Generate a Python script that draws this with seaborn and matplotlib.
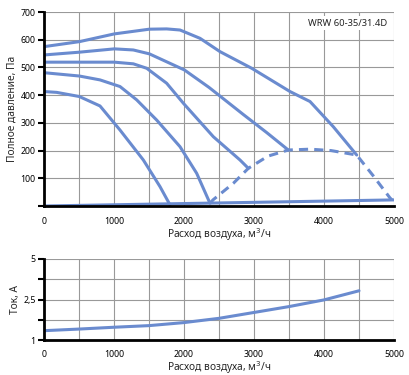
import matplotlib
matplotlib.use("Agg")
import matplotlib.pyplot as plt
import seaborn as sns
import pandas as pd

# ---- data ----
c1_x = [0, 505, 1005, 1505, 1752, 1943, 2229, 2514, 2967, 3514, 3800, 4133, 4467]
c1_y = [575, 593, 621, 638, 639, 635, 605, 557, 497, 413, 377, 286, 184]
c2_x = [0, 505, 1005, 1276, 1505, 2005, 2357, 2848, 3181, 3490]
c2_y = [545, 555, 567, 563, 549, 491, 428, 330, 265, 202]
c3_x = [0, 1005, 1276, 1467, 1752, 1990, 2419, 2800, 2919]
c3_y = [519, 519, 513, 497, 443, 371, 250, 166, 136]
c4_x = [0, 505, 800, 1086, 1324, 1610, 1943, 2181, 2371]
c4_y = [481, 469, 455, 431, 383, 310, 214, 118, 10]
c5_x = [0, 181, 505, 800, 1086, 1419, 1657, 1800]
c5_y = [413, 410, 395, 361, 274, 166, 70, 4]
base_x = [0, 5000]
base_y = [0, 22]
dash_x = [2371, 2414, 2705, 2919, 3200, 3490, 3800, 4100, 4467, 4700, 4943, 4971]
dash_y = [10, 22, 82, 136, 180, 202, 205, 200, 184, 110, 29, 22]

cur_x = [0, 500, 1000, 1500, 2000, 2500, 3000, 3500, 4000, 4500]
cur_y = [1.46, 1.54, 1.63, 1.71, 1.86, 2.07, 2.36, 2.65, 2.98, 3.43]

x_ticks = [0, 1000, 2000, 3000, 4000, 5000]
p_ticks = [100, 200, 300, 400, 500, 600, 700]
i_labels = ["1", "", "2,5", "", "5"]
label_model = "WRW 60-35/31.4D"

sns.set_theme(style="white")
plt.rcParams['font.family'] = ['Noto Sans', 'DejaVu Sans']

col = "#6a8bcf"
lw = 2.2

fig = plt.figure(figsize=(4.1, 3.75), dpi=100)
ax1 = fig.add_axes([44/410, 1-206/375, 350/410, 194/375])
ax2 = fig.add_axes([44/410, 1-340/375, 350/410, 81/375])

kw = dict(color=col, lw=lw, sort=False, estimator=None,
          solid_joinstyle="round", solid_capstyle="round")
for xs, ys in [(c1_x, c1_y), (c2_x, c2_y), (c3_x, c3_y), (c4_x, c4_y), (c5_x, c5_y), (base_x, base_y)]:
    df = pd.DataFrame({"x": xs, "y": ys})
    sns.lineplot(data=df, x="x", y="y", ax=ax1, **kw)
dfd = pd.DataFrame({"x": dash_x, "y": dash_y})
sns.lineplot(data=dfd, x="x", y="y", ax=ax1, color=col, lw=lw, sort=False,
             estimator=None, linestyle=(0, (3, 2)))

dfc = pd.DataFrame({"x": cur_x, "y": cur_y})
sns.lineplot(data=dfc, x="x", y="y", ax=ax2, **kw)

grid_col = "#999999"
for ax in (ax1, ax2):
    ax.set_xlim(0, 5000)
    ax.set_xticks(x_ticks)
    ax.set_xticks(range(0, 5001, 500), minor=True)
    ax.grid(True, which="both", axis="x", color=grid_col, lw=0.8)
    ax.grid(True, which="major", axis="y", color=grid_col, lw=0.8)
    for s in ["top", "right"]:
        ax.spines[s].set_visible(False)
    ax.spines["left"].set_color("black")
    ax.spines["left"].set_linewidth(2)
    ax.spines["bottom"].set_color("black")
    ax.spines["bottom"].set_linewidth(2)
    ax.tick_params(axis="both", which="both", labelsize=6.3, colors="black", pad=2)
    ax.tick_params(axis="y", which="major", left=True, length=4, width=1.5)
    ax.tick_params(axis="x", which="both", bottom=False)
    ax.set_axisbelow(True)

ax1.set_ylim(0, 700)
ax1.set_yticks([0] + p_ticks)
ax1.set_yticklabels([""] + [str(v) for v in p_ticks])
ax1.set_xlabel("Расход воздуха, м$^3$/ч", fontsize=7.3, labelpad=0)
ax1.set_ylabel("Полное давление, Па", fontsize=7.3, labelpad=2)
ax1.text(4900, 660, label_model, fontsize=6.8, ha="right", va="center",
         bbox=dict(facecolor="white", edgecolor="none", pad=2))

ax2.set_ylim(1, 5)
ax2.set_yticks([1, 2, 3, 4, 5])
ax2.set_yticklabels(i_labels)
ax2.tick_params(axis="x", pad=1)
ax2.set_xlabel("Расход воздуха, м$^3$/ч", fontsize=7.3, labelpad=0)
ax2.set_ylabel("Ток, А", fontsize=7.3, labelpad=2)

fig.savefig("out.png", dpi=100, facecolor="white")
